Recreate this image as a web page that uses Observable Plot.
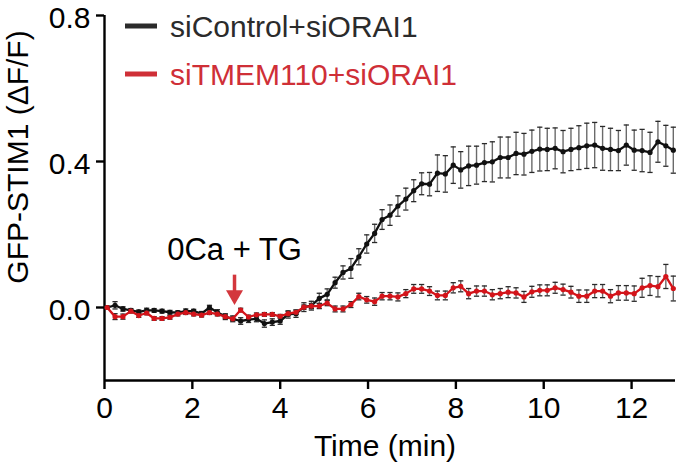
<!DOCTYPE html>
<html><head><meta charset="utf-8">
<script src="https://cdn.jsdelivr.net/npm/d3@7"></script>
<script src="https://cdn.jsdelivr.net/npm/@observablehq/plot@0.6"></script>
<style>body{margin:0;background:#fff} #chart{width:677px;height:465px}</style>
</head><body><div id="chart"></div>
<script>
const times = [0.06,0.24,0.42,0.60,0.78,0.96,1.13,1.31,1.49,1.67,1.85,2.03,2.21,2.39,2.57,2.75,2.92,3.10,3.28,3.46,3.64,3.82,4.00,4.18,4.36,4.54,4.71,4.89,5.07,5.25,5.43,5.61,5.79,5.97,6.15,6.32,6.50,6.68,6.86,7.04,7.22,7.40,7.58,7.76,7.94,8.11,8.29,8.47,8.65,8.83,9.01,9.19,9.37,9.55,9.73,9.91,10.08,10.26,10.44,10.62,10.80,10.98,11.16,11.34,11.52,11.70,11.88,12.06,12.24,12.42,12.60,12.78,12.95];
const ctrl = [0.000,0.006,-0.004,-0.008,-0.012,-0.008,-0.008,-0.010,-0.013,-0.014,-0.010,-0.010,-0.017,0.000,-0.013,-0.025,-0.031,-0.037,-0.033,-0.031,-0.044,-0.040,-0.037,-0.019,-0.017,0.001,0.005,0.025,0.036,0.068,0.096,0.107,0.139,0.174,0.203,0.241,0.253,0.278,0.297,0.320,0.339,0.338,0.368,0.366,0.390,0.377,0.388,0.390,0.397,0.399,0.411,0.411,0.422,0.420,0.428,0.434,0.433,0.436,0.427,0.433,0.438,0.443,0.445,0.436,0.433,0.430,0.445,0.431,0.430,0.425,0.454,0.443,0.431];
const ctrlErr = [0.004,0.01,0.006,0.005,0.005,0.006,0.005,0.005,0.005,0.005,0.006,0.005,0.006,0.006,0.007,0.008,0.008,0.009,0.008,0.008,0.01,0.009,0.009,0.01,0.01,0.012,0.012,0.014,0.015,0.015,0.018,0.027,0.022,0.025,0.025,0.027,0.028,0.028,0.03,0.03,0.03,0.032,0.05,0.05,0.05,0.05,0.054,0.052,0.052,0.055,0.056,0.056,0.058,0.057,0.058,0.06,0.058,0.056,0.058,0.058,0.06,0.062,0.062,0.06,0.058,0.055,0.055,0.055,0.058,0.055,0.056,0.056,0.063];
const tmem = [0.000,-0.025,-0.025,-0.010,-0.022,-0.015,-0.030,-0.030,-0.027,-0.018,-0.014,-0.018,-0.021,-0.014,-0.018,-0.025,-0.031,-0.007,-0.026,-0.020,-0.019,-0.019,-0.024,-0.017,-0.013,0.001,0.004,0.004,0.012,-0.004,-0.004,0.008,0.030,0.021,0.016,0.031,0.031,0.029,0.038,0.051,0.051,0.045,0.033,0.033,0.054,0.058,0.038,0.045,0.045,0.035,0.038,0.042,0.040,0.029,0.043,0.047,0.047,0.054,0.049,0.042,0.031,0.031,0.045,0.045,0.031,0.040,0.040,0.038,0.054,0.060,0.057,0.085,0.052];
const tmemErr = [0.003,0.008,0.007,0.005,0.005,0.005,0.005,0.005,0.005,0.005,0.005,0.005,0.005,0.005,0.005,0.005,0.005,0.005,0.005,0.005,0.005,0.005,0.005,0.006,0.006,0.006,0.007,0.007,0.007,0.008,0.008,0.008,0.009,0.009,0.01,0.01,0.01,0.011,0.011,0.012,0.012,0.012,0.012,0.012,0.014,0.015,0.014,0.014,0.014,0.014,0.014,0.015,0.014,0.015,0.015,0.015,0.015,0.015,0.015,0.016,0.017,0.017,0.018,0.018,0.018,0.02,0.02,0.021,0.026,0.027,0.028,0.033,0.034];
const seriesNames = ["siControl+siORAI1", "siTMEM110+siORAI1"];
const seriesColors = ["#111111", "#d3141a"];
const legendColors = ["#2b2b2b", "#cf2f37"];
const xTicks = [0, 2, 4, 6, 8, 10, 12];
const yTicks = [0, 0.4, 0.8];
const annotation = {label: "0Ca + TG", t: 2.96, textY: 0.156, arrowTop: 0.09, arrowBase: 0.044, headY: 0.034};

const FONT = "Liberation Sans, Arial, Helvetica, sans-serif";
const ctrlRows = times.map((t, i) => ({t, v: ctrl[i], e: ctrlErr[i]}));
const tmemRows = times.map((t, i) => ({t, v: tmem[i], e: tmemErr[i]}));

const capSymbol = {draw(ctx, size) { const w = Math.sqrt(size / Math.PI); ctx.moveTo(-w, 0); ctx.lineTo(w, 0); }};

function seriesMarks(rows, color) {
  return [
    Plot.ruleX(rows, {x: "t", y1: d => d.v - d.e, y2: d => d.v + d.e, stroke: "#6a6a6a", strokeWidth: 1.4}),
    Plot.dot(rows, {x: "t", y: d => d.v + d.e, symbol: capSymbol, r: 2.6, stroke: "#2a2a2a", fill: "none", strokeWidth: 1.3}),
    Plot.dot(rows, {x: "t", y: d => d.v - d.e, symbol: capSymbol, r: 2.6, stroke: "#2a2a2a", fill: "none", strokeWidth: 1.3}),
    Plot.line(rows, {x: "t", y: "v", stroke: color, strokeWidth: 2.3}),
    Plot.dot(rows, {x: "t", y: "v", r: 2.6, fill: color, stroke: "none"})
  ];
}

const svg = Plot.plot({
  width: 677, height: 465,
  marginLeft: 104, marginRight: 2, marginTop: 15, marginBottom: 85,
  x: {domain: [0, 13]},
  y: {domain: [-0.2, 0.8]},
  style: {fontFamily: FONT, fontSize: "30px", color: "#000", background: "#fff", overflow: "visible"},
  marks: [
    Plot.axisX({ticks: xTicks, tickSize: 9, tickPadding: 7, tickFormat: d => String(d), label: null, strokeWidth: 2.4, fontSize: 30, fill: "#000"}),
    Plot.axisY({ticks: yTicks, tickSize: 8, tickFormat: () => "", label: null, strokeWidth: 2.4}),
    Plot.axisY({ticks: yTicks, tickSize: 0, tickPadding: 14, tickFormat: d3.format(".1f"), label: null, fontSize: 30, fill: "#000", dy: 2.5}),
    Plot.ruleX([0], {strokeWidth: 2.4, stroke: "#000"}),
    Plot.ruleY([-0.2], {strokeWidth: 2.4, stroke: "#000"}),
    ...seriesMarks(ctrlRows, seriesColors[0]),
    ...seriesMarks(tmemRows, seriesColors[1]),
    Plot.text([annotation], {x: "t", y: "textY", text: "label", fontSize: 31, fill: "#000", textAnchor: "middle"}),
    Plot.link([annotation], {x1: "t", x2: "t", y1: "arrowTop", y2: "arrowBase", stroke: "#d3373d", strokeWidth: 3.5}),
    Plot.dot([annotation], {x: "t", y: "headY", symbol: "triangle", rotate: 180, r: 6.3, fill: "#d3373d", stroke: "none"})
  ]
});

const s = d3.select(svg);
s.append("text").attr("transform", "translate(28,157) rotate(-90)")
  .attr("text-anchor", "middle").attr("font-family", FONT).attr("font-size", 30).attr("fill", "#000")
  .text("GFP-STIM1 (\u0394F/F)");
s.append("text").attr("x", 385).attr("y", 456)
  .attr("text-anchor", "middle").attr("font-family", FONT).attr("font-size", 30).attr("fill", "#000")
  .text("Time (min)");
const legendY = [26, 74];
seriesNames.forEach((name, i) => {
  s.append("line").attr("x1", 125).attr("x2", 157).attr("y1", legendY[i]).attr("y2", legendY[i])
    .attr("stroke", legendColors[i]).attr("stroke-width", 5);
  s.append("text").attr("x", 170).attr("y", legendY[i] + 11)
    .attr("text-anchor", "start").attr("font-family", FONT).attr("font-size", 30).attr("fill", legendColors[i])
    .text(name);
});
document.getElementById("chart").appendChild(svg);
</script>
</body></html>
